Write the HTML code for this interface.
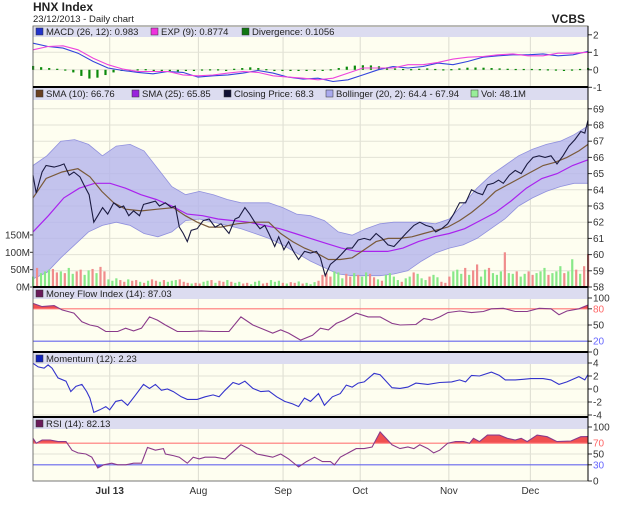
<!DOCTYPE html>
<html><head><meta charset="utf-8"><style>
body{margin:0;background:#fff;}
svg{display:block;font-family:"Liberation Sans",sans-serif;}
</style></head><body>
<svg id="c" width="620" height="505" viewBox="0 0 620 505"></svg>
<script>
// ---- data ----
const monthLabels = ["Jul 13","Aug","Sep","Oct","Nov","Dec"];
const monthDays = [19.3,41.6,62.9,82.3,104.6,125.1];
const closeDays = [0,0.8,2.3,3.3,5.3,6.8,7.8,9.1,10.3,11.8,12.8,14.1,15.3,16.3,17.5,18.8,20.3,21.8,22.8,24.1,25.3,26.8,27.8,29.3,30.8,31.8,33.3,34.8,35.8,36.8,37.8,38.8,39.8,41.3,42.8,44.3,45.8,47.3,49.3,50.8,51.8,53.3,54.5,55.8,57.1,58.3,59.3,60.8,61.8,63.1,64.3,65.5,66.8,68.3,69.8,71.3,72.3,73.5,74.8,76.3,77.5,79,80.3,81.8,83.3,84.8,86.3,87.8,89.3,90.8,92.3,93.8,95.8,97.3,98.8,100.3,101.3,102.8,104.3,105.8,107.3,108.8,110.3,111.8,113.1,114.3,115.8,117.1,118.3,119.8,121.3,122.8,124.3,125.8,127.3,128.8,130.3,131.8,133.3,134.8,136.3,137.8,138.8,139.6];
const closeVals = [64.9,63.8,65.1,65.5,65.4,65.5,65.6,64.9,65.1,64.8,64.3,63.7,62.0,62.4,62.9,62.5,63.2,62.9,63.0,62.4,62.7,62.4,63.1,63.2,63.3,63.0,63.2,62.9,63.0,61.7,61.3,60.8,61.5,61.6,62.1,62.2,61.7,61.9,61.3,62.2,62.3,62.9,62.5,62.0,61.6,61.8,61.3,60.5,61.1,60.3,60.8,60.2,59.7,60.2,60.1,60.2,59.8,58.7,59.4,59.7,60.0,60.4,60.4,60.9,61.0,60.9,61.3,61.0,60.6,60.5,60.9,61.3,61.8,62.0,61.8,61.7,61.4,61.6,61.9,62.5,63.2,63.2,64.0,63.8,63.7,64.3,64.4,64.6,64.4,64.9,65.2,65.0,65.6,66.0,66.1,66.0,66.1,65.6,66.1,66.7,67.1,67.6,67.5,68.3];
const sma10Days = [0,3.3,7.3,11.3,14.3,17.3,20.3,23.3,27.3,31.3,35.3,38.3,41.3,44.3,47.3,51.3,55.3,59.3,62.3,65.3,68.3,71.3,74.3,77.3,80.3,83.3,86.3,89.3,92.3,95.3,98.3,101.3,104.3,107.3,110.3,113.3,116.3,119.3,122.3,125.3,128.3,131.3,134.3,137.3,139.6];
const sma10Vals = [63.5,64.7,65.1,65.3,64.8,63.9,63.2,62.8,62.7,62.8,62.9,62.4,62.0,61.7,61.7,61.9,62.0,62.0,61.3,60.8,60.4,60.1,59.7,59.7,59.8,60.3,60.8,61.0,61.0,61.1,61.3,61.5,61.7,62.1,62.6,63.2,63.9,64.3,64.7,65.1,65.5,65.7,66.0,66.4,66.8];
const sma25Vals = [61.4,62.4,63.5,64.1,64.4,64.4,64.1,63.7,63.4,63.0,62.5,62.4,62.2,62.1,62.0,61.8,61.6,61.3,61.0,60.7,60.4,60.2,60.2,60.2,60.4,60.8,61.1,61.3,61.6,62.1,62.6,63.3,64.1,64.7,65.0,65.5,65.85];
const bollUpper = [65.5,66.1,67.0,67.1,66.8,66.1,66.7,66.8,66.4,65.3,64.2,63.7,63.9,63.7,63.4,63.2,63.2,63.2,62.9,62.5,62.4,62.1,61.4,61.2,61.6,61.9,62.0,62.0,62.0,61.9,62.2,63.1,64.1,64.9,65.5,66.1,66.5,66.8,67.0,67.4,67.94];
const bollLower = [58.5,58.9,59.8,60.6,61.4,61.8,62.0,61.8,61.3,61.1,61.4,62.1,62.2,62.0,61.8,61.6,61.3,61.0,60.6,60.1,59.6,59.2,58.8,58.7,58.7,58.7,58.8,59.0,59.6,60.1,60.4,60.6,61.0,61.6,62.2,63.0,63.5,63.9,64.2,64.4,64.4];
const volumeM = [30,55,40,45,50,52,42,45,40,55,38,45,50,35,48,52,40,58,45,22,18,25,20,15,22,18,20,15,12,18,22,18,15,20,15,18,20,22,15,12,10,12,10,15,18,20,12,18,15,20,15,12,15,10,12,8,15,18,10,12,20,15,18,12,10,14,12,16,10,12,8,14,18,35,40,30,45,42,25,38,30,40,35,30,42,38,28,22,18,35,40,30,20,15,25,30,42,38,25,20,30,35,28,15,12,30,45,50,38,55,35,48,65,30,50,55,40,35,45,100,40,38,45,30,38,45,35,40,45,55,35,40,45,60,40,45,80,50,38,60,95];
const volumeUp = "grgggrrgrggrrggrgrrgggrrgrrgrgrrgrgggrrrgrrggrgrrgrggrrgggrrgggrgrrgrgggrrrrgggrrgrggrrgrggggrggrgggrggrrrgggrgrrggrgggrggrggrrgggrgggrggrgr";
const macdVals = [1.52,1.33,1.24,0.95,0.48,0.1,-0.04,-0.15,-0.23,-0.1,-0.15,-0.42,-0.34,-0.29,-0.19,-0.04,-0.19,-0.42,-0.53,-0.48,-0.67,-0.57,-0.29,0.0,0.19,0.1,0.19,0.38,0.29,0.48,0.72,0.8,0.86,0.86,0.91,0.8,0.86,1.05];
const expVals = [1.14,1.33,1.37,1.14,0.67,0.29,0.04,-0.1,-0.1,-0.1,-0.29,-0.34,-0.3,-0.19,-0.1,-0.15,-0.34,-0.42,-0.48,-0.57,-0.48,-0.19,0.1,0.1,0.1,0.29,0.29,0.42,0.61,0.72,0.76,0.86,0.91,0.8,0.8,0.95,0.95,1.0];
const divergenceVals = [0.22,0.15,0.1,0.06,0.02,-0.15,-0.35,-0.5,-0.45,-0.3,-0.15,-0.05,-0.03,0.03,0.04,0.0,-0.04,-0.08,-0.1,-0.06,-0.03,0.02,0.03,0.03,0.0,0.06,0.1,0.14,0.1,0.04,-0.03,-0.05,-0.06,-0.06,-0.05,-0.04,-0.03,0.03,0.1,0.18,0.24,0.26,0.25,0.2,0.14,0.08,0.05,0.04,0.06,0.08,0.05,0.03,0.04,0.08,0.12,0.13,0.12,0.1,0.08,0.06,0.05,0.05,0.05,0.04,0.03,0.02,0.0,0.02,0.05,0.1];
const mfiDays = [0,2.3,5.3,7.3,10.3,12.3,14.3,16.3,18.3,21.3,23.3,25.3,27.3,29.3,31.3,33.3,36.3,39.3,42.3,45.3,49.3,52.3,55.3,58.3,60.3,62.3,64.3,67.3,70.3,72.3,74.3,76.3,78.3,81.3,84.3,87.3,90.3,92.3,96.3,98.3,100.3,102.3,104.3,107.3,110.3,113.3,115.3,118.3,121.3,124.3,127.3,130.3,132.3,134.3,137.3,139.6];
const mfiVals = [90,84,86,78,72,56,50,47,38,38,44,39,44,65,59,50,38,38,39,38,38,65,50,41,35,41,35,22,31,44,41,53,59,72,65,65,53,50,51,62,59,65,73,76,73,75,80,81,75,75,81,80,69,76,80,87];
const momDays = [0,1.3,2.8,3.8,4.8,6.3,8.3,9.5,10.8,12.3,13.5,14.3,15.3,16.8,18.3,19.3,20.8,22.3,23.8,25.8,27.8,29.3,30.8,32.3,33.8,35.3,37.3,38.8,41.3,43.3,45.3,46.8,48.3,50.3,51.8,53.3,55.3,57.3,59.3,61.3,63.3,65.3,66.8,68.3,69.8,71.8,73.3,75.3,77.3,78.8,80.3,81.8,83.3,85.8,87.3,90.3,92.3,94.3,96.3,99.3,102.3,105.3,107.3,108.8,110.3,112.3,115.3,117.3,118.8,121.3,123.3,125.3,128.3,130.3,132.3,134.3,137.3,138.8,139.6];
const momVals = [3.95,3.4,3.2,3.7,3.2,1.7,1.2,-0.4,0.4,0.7,-0.4,-1.4,-3.6,-3.2,-2.7,-3.2,-1.9,-1.7,-2.5,-0.9,0.7,0.1,0.7,-0.2,0.0,-0.4,-1.2,-1.6,-1.6,-1.2,-0.9,-1.2,-0.2,1.0,0.7,1.2,0.1,-0.4,-0.3,-1.2,-1.9,-2.3,-2.7,-1.4,-1.9,-0.7,-2.5,-1.2,-0.7,0.6,0.3,0.9,1.1,2.4,2.2,0.2,0.1,0.3,0.9,0.7,1.0,1.1,1.4,1.1,2.1,2.0,2.6,2.1,1.4,1.4,1.5,1.6,1.6,1.4,0.7,1.1,1.9,1.4,2.23];
const rsiDays = [0,0.8,2.3,4.3,6.3,8.3,9.8,11.3,13.3,14.8,16.3,17.8,19.8,21.3,23.3,25.3,27.3,28.8,30.8,32.8,33.3,35.3,36.8,38.8,40.3,41.8,43.3,45.8,48.3,50.3,52.3,54.3,56.3,58.3,60.3,62.3,64.3,66.8,68.8,70.8,72.8,74.8,75.8,77.3,79.3,81.3,83.3,85.3,87.3,88.8,90.3,92.3,94.3,95.8,97.3,99.3,100.8,102.3,104.3,106.3,108.3,109.8,110.8,112.3,114.3,117.3,119.3,121.3,122.8,124.3,126.8,129.3,131.8,135.3,137.8,139.6];
const rsiVals = [79,70,76,76,73,73,57,52,50,44,24,30,33,30,30,33,33,62,57,60,50,47,44,33,44,41,44,44,41,54,67,60,50,47,44,50,41,26,36,44,36,36,30,44,52,60,60,63,91,79,67,60,63,60,67,60,52,57,70,73,73,70,79,73,85,85,79,76,79,73,85,82,73,74,82,82.13];
// ---- layout ----
const svg = document.getElementById('c');
const NS = 'http://www.w3.org/2000/svg';
const X0 = 33, X1 = 588, DMAX = 139.6;
function xDay(d){ return X0 + d / DMAX * (X1 - X0); }
function xIdx(i, n){ return xDay(i * DMAX / (n - 1)); }
function yPrice(v){ return 287 - (v - 58) * 16.2; }
function yVol(v){ return 287 - v * 0.347; }
function yMacd(v){ return 69.8 - v * 17.5; }
function yMfi(v){ return 352 - v * 0.54; }
function yMom(v){ return 389 - v * 6.5; }
function yRsi(v){ return 481 - v * 0.54; }
function el(tag, attrs, parent){ const e = document.createElementNS(NS, tag); for (const k in attrs) e.setAttribute(k, attrs[k]); (parent || svg).appendChild(e); return e; }
function txt(x, y, s, attrs){ const t = el('text', Object.assign({x:x, y:y}, attrs)); t.textContent = s; return t; }
function pts(xs, ys){ return xs.map((x,i)=>x.toFixed(1)+','+ys[i].toFixed(1)).join(' '); }

// title
let t = txt(33, 11, 'HNX Index', {'font-size':12,'font-weight':'bold',fill:'#222'});


t = txt(33, 22, '23/12/2013 - Daily chart', {'font-size':9.5,fill:'#222'});


t = txt(585, 23, 'VCBS', {'font-size':12,'font-weight':'bold',fill:'#222','text-anchor':'end'});



const panels = [
  {name:'macd-panel', top:26, bot:87, lh:10},
  {name:'price-panel', top:87, bot:287, lh:12},
  {name:'mfi-panel', top:287, bot:352, lh:11},
  {name:'momentum-panel', top:352, bot:417, lh:11},
  {name:'rsi-panel', top:417, bot:481, lh:11}
];
panels.forEach(p => {
  const r = el('rect', {x:X0, y:p.top, width:X1-X0, height:p.bot-p.top, fill:'#fefef0', stroke:'none'});
  
  
  el('rect', {x:X0, y:p.top+1, width:X1-X0, height:p.lh, fill:'#dcdcf0'});
  monthDays.forEach(d => el('line', {x1:xDay(d), x2:xDay(d), y1:p.top+1+p.lh, y2:p.bot, stroke:'#dcdcd0','stroke-width':1}));
});
function hgrid(vals, yf, top){ vals.forEach(v => { const y = yf(v); if (y > top) el('line', {x1:X0, x2:X1, y1:y, y2:y, stroke:'#e2e2d6'}); }); }
function ylabels(vals, yf, name, colors){ vals.forEach((v,i) => {
  const y = yf(v);
  el('line', {x1:X1, x2:X1+4, y1:y, y2:y, stroke:'#333'});
  const l = txt(X1+5, y+3.5, String(v), {'font-size':10, fill:(colors && colors[i]) || '#333'});
  
  
}); }
hgrid([2,1,0,-1], yMacd, 37);
hgrid([69,68,67,66,65,64,63,62,61,60,59], yPrice, 100);
hgrid([50], yMfi, 298);
hgrid([4,2,0,-2,-4], yMom, 363);
hgrid([50], yRsi, 428);

// MACD
divergenceVals.forEach((v,i) => {
  const x = xIdx(i, divergenceVals.length), y0 = yMacd(0), y1 = yMacd(v);
  const b = el('rect', {x:x-1, y:Math.min(y0,y1), width:2.2, height:Math.max(1.2, Math.abs(y1-y0)), fill:'#0b8a0b'});
  
  
});
let ln = el('polyline', {points:pts(macdVals.map((v,i)=>xIdx(i,macdVals.length)), macdVals.map(yMacd)), fill:'none', stroke:'#3344dd','stroke-width':1.1});


ln = el('polyline', {points:pts(expVals.map((v,i)=>xIdx(i,expVals.length)), expVals.map(yMacd)), fill:'none', stroke:'#ee44dd','stroke-width':1.1});


ylabels([2,1,0,-1], yMacd, 'macd');

// Price
const bx = bollUpper.map((v,i)=>xIdx(i,bollUpper.length));
const band = el('polygon', {points: pts(bx, bollUpper.map(yPrice)) + ' ' + pts(bx.slice().reverse(), bollLower.slice().reverse().map(yPrice)), fill:'#b4b4ec','fill-opacity':0.8, stroke:'#9090dd','stroke-width':0.8});


volumeM.forEach((v,i) => {
  const x = xIdx(i, volumeM.length);
  const b = el('rect', {x:x-1, y:yVol(v), width:2.2, height:287-yVol(v), fill: volumeUp[i]==='g' ? '#88e888' : '#f08c8c'});
  
  
});
ln = el('polyline', {points:pts(sma25Vals.map((v,i)=>xIdx(i,sma25Vals.length)), sma25Vals.map(yPrice)), fill:'none', stroke:'#aa22ee','stroke-width':1.2});


ln = el('polyline', {points:pts(sma10Days.map(xDay), sma10Vals.map(yPrice)), fill:'none', stroke:'#7a5a3a','stroke-width':1.2});


ln = el('polyline', {points:pts(closeDays.map(xDay), closeVals.map(yPrice)), fill:'none', stroke:'#1a1a40','stroke-width':1.1});


ylabels([69,68,67,66,65,64,63,62,61,60,59,58], yPrice, 'price');
[0,50,100,150].forEach(v => {
  const y = yVol(v);
  el('line', {x1:X0-3, x2:X0, y1:y, y2:y, stroke:'#333'});
  const l = txt(X0-3, y+3.5, v+'M', {'font-size':10, fill:'#333','text-anchor':'end'});
  
  
});

// oscillator helper with threshold fills
let clipN = 0;
function osc(days, vals, yf, hi, lo, color, name){
  const xs = days.map(xDay), ys = vals.map(yf);
  [[hi, '#f05050', true], [lo, '#5050f0', false]].forEach(([th, col, above]) => {
    const yt = yf(th), id = 'cl' + (clipN++);
    const cp = el('clipPath', {id:id});
    el('rect', above ? {x:X0, y:0, width:X1-X0, height:yt} : {x:X0, y:yt, width:X1-X0, height:505-yt}, cp);
    const a = el('polygon', {points: xs[0].toFixed(1)+','+yt+' '+pts(xs, ys)+' '+xs[xs.length-1].toFixed(1)+','+yt, fill:col, 'clip-path':'url(#'+id+')'});
    
    
    el('line', {x1:X0, x2:X1, y1:yt, y2:yt, stroke: above ? '#ff7777' : '#6666ee', 'stroke-width':1.2});
  });
  const l = el('polyline', {points:pts(xs, ys), fill:'none', stroke:color, 'stroke-width':1.1});
  
  
}
osc(mfiDays, mfiVals, yMfi, 80, 20, '#8a3a8a', 'mfi');
ylabels([100,80,50,20,0], yMfi, 'mfi', [null,'#ff6666',null,'#6666ff',null]);
ln = el('polyline', {points:pts(momDays.map(xDay), momVals.map(yMom)), fill:'none', stroke:'#3333cc','stroke-width':1.1});


ylabels([4,2,0,-2,-4], yMom, 'momentum');
osc(rsiDays, rsiVals, yRsi, 70, 30, '#8a3a8a', 'rsi');
ylabels([100,70,50,30,0], yRsi, 'rsi', [null,'#ff6666',null,'#6666ff',null]);

// panel borders
panels.forEach(p => el('rect', {x:X0, y:p.top, width:X1-X0, height:p.bot-p.top, fill:'none', stroke:'#555','stroke-width':0.8}));
[87,287,352,417].forEach(y => el('line', {x1:X0, x2:X1, y1:y, y2:y, stroke:'#000','stroke-width':2}));
el('line', {x1:X1, x2:X1, y1:26, y2:481, stroke:'#000','stroke-width':1});

// legends
function legend(y, items, pname){ items.forEach(([x, c, s]) => {
  const sw = el('rect', {x:x, y:y-7, width:7, height:7, fill:c, stroke:'#333','stroke-width':0.5});
  
  
  const l = txt(x+10, y, s, {'font-size':9.5, fill:'#222'});
  
  
}); }
legend(35, [[36,'#2233cc','MACD (26, 12): 0.983'],[151,'#ee33dd','EXP (9): 0.8774'],[242,'#117711','Divergence: 0.1056']], 'macd');
legend(97, [[36,'#6a4020','SMA (10): 66.76'],[132,'#9922dd','SMA (25): 65.85'],[224,'#111133','Closing Price: 68.3'],[326,'#aaaaee','Bollinger (20, 2): 64.4 - 67.94'],[471,'#99ee99','Vol: 48.1M']], 'price');
legend(297, [[36,'#6a1a5a','Money Flow Index (14): 87.03']], 'mfi');
legend(362, [[36,'#1122bb','Momentum (12): 2.23']], 'momentum');
legend(427, [[36,'#6a1a5a','RSI (14): 82.13']], 'rsi');

// x axis labels
monthLabels.forEach((m,i) => {
  const l = txt(xDay(monthDays[i]), 494, m, {'font-size':10, fill:'#333','text-anchor':'middle','font-weight': i===0 ? 'bold' : 'normal'});
  
  
});
</script>
</body></html>
